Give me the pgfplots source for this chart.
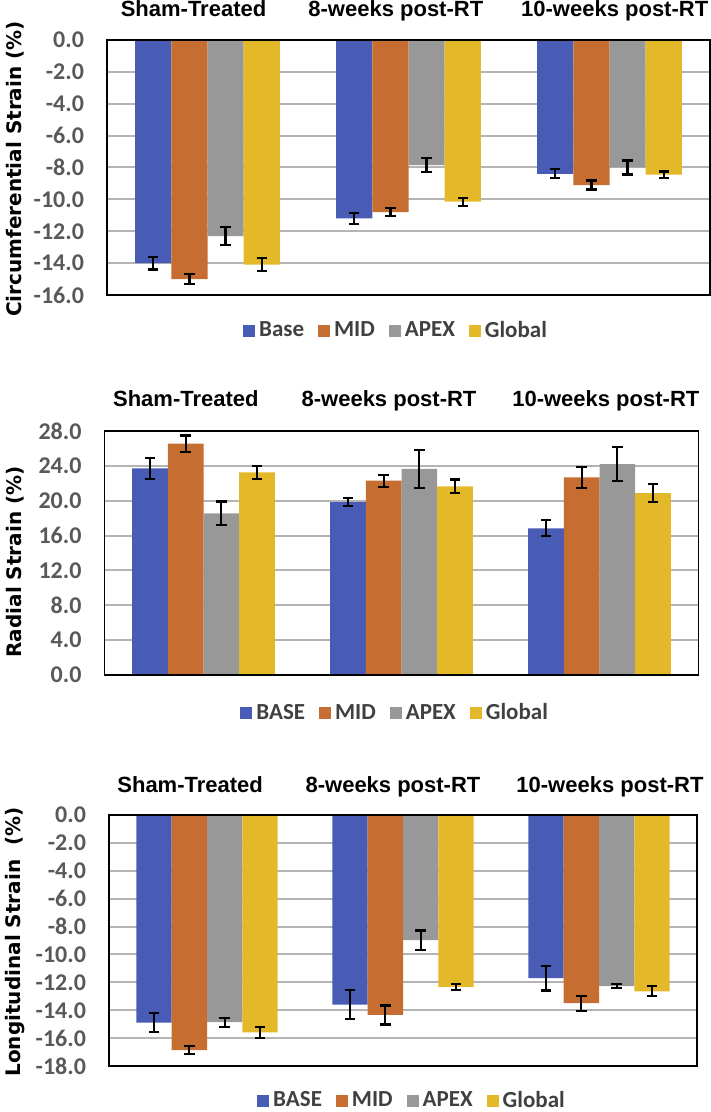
\documentclass[border=0pt]{standalone}
\usepackage{pgfplots}
\pgfplotsset{compat=1.18}
\usepackage{fontspec}
\setmainfont{Carlito}
\newfontfamily\carlito{Carlito}
\newfontfamily\lsans{Liberation Sans}
\newfontfamily\dejavu{DejaVu Sans}
\definecolor{cBase}{RGB}{72,91,181}
\definecolor{cMid}{RGB}{198,110,49}
\definecolor{cApex}{RGB}{152,152,152}
\definecolor{cGlob}{RGB}{228,185,41}
\definecolor{tickgray}{RGB}{89,89,89}
\definecolor{leggray}{RGB}{64,64,64}
\definecolor{gridgray}{RGB}{180,180,180}
\newcommand{\ttl}{\lsans\bfseries\fontsize{11}{13}\selectfont}
\pgfplotsset{
  strainstyle/.style={
    scale only axis, clip=false,
    ybar=0pt, bar width=0.18,
    xmin=-0.5, xmax=2.5,
    xtick=\empty,
    major tick length=0pt,
    y tick label style={font=\carlito\bfseries\fontsize{12}{14}\selectfont, text=tickgray, xshift=-8pt},
    yticklabel style={/pgf/number format/.cd, fixed, fixed zerofill, precision=1, assume math mode=true},
    ymajorgrids,
    grid style={gridgray, line width=1pt},
    axis line style={black, line width=0.7pt},
    ylabel style={font=\dejavu\bfseries\fontsize{10}{12}\selectfont, text=black},
    legend columns=4,
    legend style={draw=none, fill=none, font=\carlito\bfseries\fontsize{11.5}{13}\selectfont, text=leggray,
      /tikz/every even column/.append style={column sep=5pt}, inner sep=0pt},
    legend image code/.code={\fill[##1,draw=none] (0pt,-3pt) rectangle (6pt,3pt);},
    error bars/error bar style={black, line width=1.1pt},
    error bars/error mark options={rotate=90, mark size=2.6pt, line width=1.1pt, black},
  },
  barB/.style={fill=cBase, draw=none},
  barM/.style={fill=cMid, draw=none},
  barA/.style={fill=cApex, draw=none},
  barG/.style={fill=cGlob, draw=none},
}
\begin{document}
\begin{tikzpicture}
\path[use as bounding box] (0pt,0pt) rectangle (355.5pt,556pt);
% Panel 1: circumferential
\begin{axis}[strainstyle,
  at={(53.5pt,408.5pt)}, anchor=south west,
  width=301.5pt, height=127.5pt,
  ymin=-16, ymax=0, ytick={-16,-14,...,0},
  ylabel={Circumferential Strain (\%)},
  ylabel style={at={(axis description cs:-0.1526,0.494)}, anchor=center},
  legend style={at={(0.481,-0.141)}, anchor=center},
]
\addplot[barB, error bars/.cd, y dir=both, y explicit] coordinates {(0,-14.0) +- (0,0.40) (1,-11.2) +- (0,0.35) (2,-8.4) +- (0,0.28)};
\addplot[barM, error bars/.cd, y dir=both, y explicit] coordinates {(0,-15.0) +- (0,0.33) (1,-10.8) +- (0,0.24) (2,-9.1) +- (0,0.28)};
\addplot[barA, error bars/.cd, y dir=both, y explicit] coordinates {(0,-12.3) +- (0,0.55) (1,-7.85) +- (0,0.45) (2,-8.0) +- (0,0.44)};
\addplot[barG, error bars/.cd, y dir=both, y explicit] coordinates {(0,-14.1) +- (0,0.40) (1,-10.15) +- (0,0.26) (2,-8.45) +- (0,0.20)};
\legend{Base, MID, APEX, Global}
\draw[black, line width=0.7pt] (rel axis cs:0,0) rectangle (rel axis cs:1,1);
\node[anchor=base, font=\ttl, yshift=11.5pt] at (rel axis cs:0.1435,1) {Sham-Treated};
\node[anchor=base, font=\ttl, yshift=11.5pt] at (rel axis cs:0.479,1) {8-weeks post-RT};
\node[anchor=base, font=\ttl, yshift=11.5pt] at (rel axis cs:0.842,1) {10-weeks post-RT};
\end{axis}
% Panel 2: radial
\begin{axis}[strainstyle,
  at={(52.25pt,218.5pt)}, anchor=south west,
  width=297pt, height=122pt,
  ymin=0, ymax=28, ytick={0,4,...,28},
  ylabel={Radial Strain (\%)},
  ylabel style={at={(axis description cs:-0.1507,0.463)}, anchor=center},
  legend style={at={(0.491,-0.156)}, anchor=center},
]
\addplot[barB, error bars/.cd, y dir=both, y explicit] coordinates {(0,23.7) +- (0,1.2) (1,19.85) +- (0,0.46) (2,16.83) +- (0,0.92)};
\addplot[barM, error bars/.cd, y dir=both, y explicit] coordinates {(0,26.56) +- (0,0.93) (1,22.3) +- (0,0.69) (2,22.67) +- (0,1.18)};
\addplot[barA, error bars/.cd, y dir=both, y explicit] coordinates {(0,18.55) +- (0,1.35) (1,23.66) +- (0,2.2) (2,24.2) +- (0,1.97)};
\addplot[barG, error bars/.cd, y dir=both, y explicit] coordinates {(0,23.24) +- (0,0.76) (1,21.64) +- (0,0.8) (2,20.88) +- (0,1.03)};
\legend{BASE, MID, APEX, Global}
\draw[black, line width=0.7pt] (rel axis cs:0,0) rectangle (rel axis cs:1,1);
\node[anchor=base, font=\ttl, yshift=12pt] at (rel axis cs:0.137,1) {Sham-Treated};
\node[anchor=base, font=\ttl, yshift=12pt] at (rel axis cs:0.479,1) {8-weeks post-RT};
\node[anchor=base, font=\ttl, yshift=12pt] at (rel axis cs:0.844,1) {10-weeks post-RT};
\end{axis}
% Panel 3: longitudinal
\begin{axis}[strainstyle,
  at={(54.5pt,23pt)}, anchor=south west,
  width=294pt, height=125.5pt,
  ymin=-18, ymax=0, ytick={-18,-16,...,0},
  ylabel={Longitudinal Strain~~(\%)},
  ylabel style={at={(axis description cs:-0.16,0.494)}, anchor=center},
  legend style={at={(0.517,-0.139)}, anchor=center},
]
\addplot[barB, error bars/.cd, y dir=both, y explicit] coordinates {(0,-14.89) +- (0,0.7) (1,-13.6) +- (0,1.04) (2,-11.7) +- (0,0.89)};
\addplot[barM, error bars/.cd, y dir=both, y explicit] coordinates {(0,-16.87) +- (0,0.29) (1,-14.34) +- (0,0.68) (2,-13.5) +- (0,0.54)};
\addplot[barA, error bars/.cd, y dir=both, y explicit] coordinates {(0,-14.86) +- (0,0.33) (1,-8.98) +- (0,0.7) (2,-12.28) +- (0,0.15)};
\addplot[barG, error bars/.cd, y dir=both, y explicit] coordinates {(0,-15.58) +- (0,0.4) (1,-12.33) +- (0,0.2) (2,-12.64) +- (0,0.36)};
\legend{BASE, MID, APEX, Global}
\draw[black, line width=0.7pt] (rel axis cs:0,0) rectangle (rel axis cs:1,1);
\node[anchor=base, font=\ttl, yshift=11pt] at (rel axis cs:0.138,1) {Sham-Treated};
\node[anchor=base, font=\ttl, yshift=11pt] at (rel axis cs:0.483,1) {8-weeks post-RT};
\node[anchor=base, font=\ttl, yshift=11pt] at (rel axis cs:0.852,1) {10-weeks post-RT};
\end{axis}
\end{tikzpicture}
\end{document}
